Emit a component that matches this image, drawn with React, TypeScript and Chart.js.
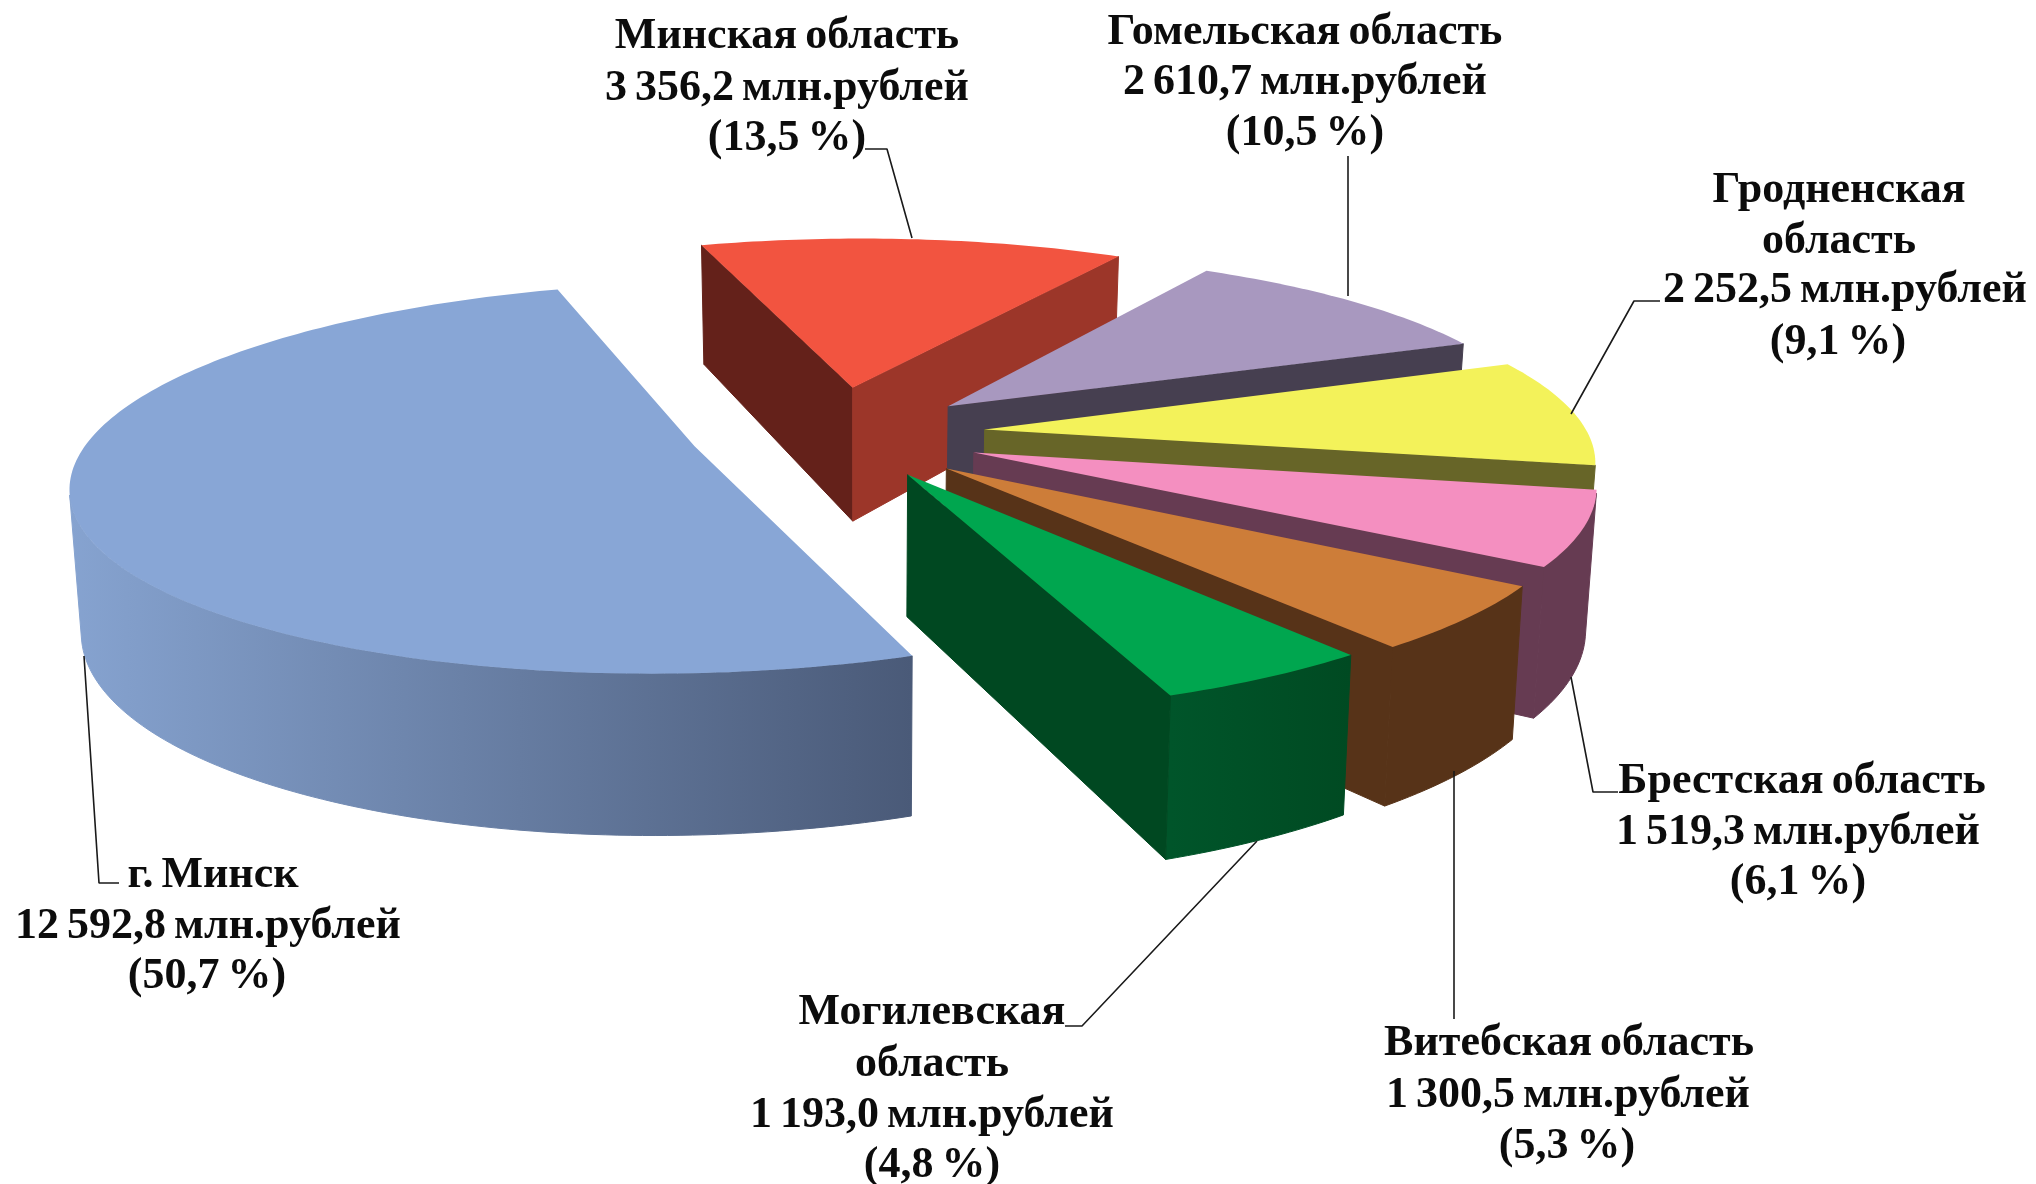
import React, { useEffect, useRef } from "react";
import { Chart, registerables } from "chart.js";

Chart.register(...registerables);

const categories = ["Минская область", "Гомельская область", "Гродненская область", "Брестская область", "Витебская область", "Могилевская область", "г. Минск"];
const seriesValues = [3356.2, 2610.7, 2252.5, 1519.3, 1300.5, 1193.0, 12592.8];
const valueLabels = ["3 356,2 млн.рублей", "2 610,7 млн.рублей", "2 252,5 млн.рублей", "1 519,3 млн.рублей", "1 300,5 млн.рублей", "1 193,0 млн.рублей", "12 592,8 млн.рублей"];
const percentLabels = ["(13,5 %)", "(10,5 %)", "(9,1 %)", "(6,1 %)", "(5,3 %)", "(4,8 %)", "(50,7 %)"];

// Presentation only
const topColors = ["#f25440", "#a898bf", "#f3f25a", "#f48fc0", "#cd7d39", "#00a64f", "#88a6d6"];
const startWall = ["#64211a", "#463f50", "#676528", "#663b52", "#573318", "#004a22", "#4a5a78"];
const endWall = ["#9c3629", "#463f50", "#676528", "#663b52", "#573318", "#004821", "#4a5a78"];
const outerFrom = ["#9c3629", "#463f50", "#676528", "#663b52", "#573318", "#00552a", "#86a3d0"];
const outerTo = ["#9c3629", "#463f50", "#676528", "#663b52", "#573318", "#004a22", "#4a5a78"];
const explodePercent = [26.3, 21.9, 21.4, 21.3, 22.8, 22.2, 27.2];
const explodeTwistDeg = [-8.5, -5.2, -2.5, 3.8, 7.7, 7.3, 7];

const labelBlocks = [
  { lines: [categories[0], valueLabels[0], percentLabels[0]], x: [787, 787, 787], y: [37, 89, 139], leader: [[865, 149], [887, 149], [912, 238]] },
  { lines: [categories[1], valueLabels[1], percentLabels[1]], x: [1305, 1305, 1305], y: [33, 83, 134], leader: [[1348, 156], [1348, 296]] },
  { lines: ["Гродненская", "область", valueLabels[2], percentLabels[2]], x: [1839, 1839, 1845, 1838], y: [191, 242, 291, 343], leader: [[1660, 301], [1634, 301], [1571, 414]] },
  { lines: [categories[3], valueLabels[3], percentLabels[3]], x: [1802, 1798, 1798], y: [782, 833, 883], leader: [[1618, 792], [1593, 792], [1571, 677]] },
  { lines: [categories[4], valueLabels[4], percentLabels[4]], x: [1569, 1568, 1567], y: [1044, 1096, 1147], leader: [[1454, 1019], [1454, 771]] },
  { lines: ["Могилевская", "область", valueLabels[5], percentLabels[5]], x: [932, 932, 932, 932], y: [1013, 1065, 1116, 1166], leader: [[1065, 1026], [1082, 1026], [1257, 841]] },
  { lines: [categories[6], valueLabels[6], percentLabels[6]], x: [213, 208, 207], y: [876, 927, 977], leader: [[119, 883], [99, 883], [84, 656]] },
];

const VIEW = { yRatio: 187 / 604, skew: -10 / 604, perspective: 0.16, depth: 138, depthSlope: 0.1, bottomX: 0.985 };

type P = [number, number];

function makeProjector(cx: number, cy: number, r: number) {
  return (x: number, y: number, bottom: boolean): P => {
    const w = 1 - VIEW.perspective * y;
    const sx = ((x + VIEW.skew * y) * r) / w;
    const sy = (y * r * VIEW.yRatio) / w;
    if (!bottom) return [cx + sx, cy + sy];
    return [cx + VIEW.bottomX * sx, cy + sy + VIEW.depth + VIEW.depthSlope * sy];
  };
}

function area(poly: P[]) {
  let s = 0;
  for (let i = 0; i < poly.length; i++) {
    const [a, b] = poly[i];
    const [c, d] = poly[(i + 1) % poly.length];
    s += a * d - c * b;
  }
  return s / 2;
}

function fillPoly(ctx: CanvasRenderingContext2D, poly: P[], fill: string | CanvasGradient, seal = false) {
  ctx.beginPath();
  poly.forEach(([x, y], i) => (i ? ctx.lineTo(x, y) : ctx.moveTo(x, y)));
  ctx.closePath();
  ctx.fillStyle = fill;
  ctx.fill();
  if (seal) {
    ctx.strokeStyle = fill;
    ctx.lineWidth = 1;
    ctx.lineJoin = "bevel";
    ctx.stroke();
  }
}

const perspectivePie = {
  id: "perspectivePie",
  beforeDatasetDraw(chart: any) {
    const ctx: CanvasRenderingContext2D = chart.ctx;
    const arcs = chart.getDatasetMeta(0).data.map((el: any, i: number) => {
      const g = el.getProps(["x", "y", "startAngle", "endAngle", "outerRadius"], true);
      return { i, g, d: (el.options.offset || 0) / 100, color: el.options.backgroundColor, mid: (g.startAngle + g.endAngle) / 2 };
    });
    arcs.sort((a: any, b: any) => Math.sin(a.mid) - Math.sin(b.mid));
    for (const { i, g, d, color, mid } of arcs) {
      const proj = makeProjector(g.x, g.y, g.outerRadius);
      const dir = mid + (explodeTwistDeg[i] * Math.PI) / 180;
      const ox = d * Math.cos(dir);
      const oy = d * Math.sin(dir);
      const steps = Math.max(4, Math.ceil(((g.endAngle - g.startAngle) * 180) / Math.PI));
      const rim: { t: P; b: P }[] = [];
      for (let k = 0; k <= steps; k++) {
        const a = g.startAngle + ((g.endAngle - g.startAngle) * k) / steps;
        const x = ox + Math.cos(a);
        const y = oy + Math.sin(a);
        rim.push({ t: proj(x, y, false), b: proj(x, y, true) });
      }
      const apexT = proj(ox, oy, false);
      const apexB = proj(ox, oy, true);
      let run: { t: P; b: P }[] = [];
      const flush = () => {
        if (run.length > 1) {
          const xs = run.map((r) => r.t[0]);
          const grad = ctx.createLinearGradient(Math.min(...xs), 0, Math.max(...xs), 0);
          grad.addColorStop(0, outerFrom[i]);
          grad.addColorStop(1, outerTo[i]);
          fillPoly(ctx, [...run.map((r) => r.t), ...run.map((r) => r.b).reverse()], grad, true);
        }
        run = [];
      };
      for (let k = 0; k < steps; k++) {
        const q: P[] = [rim[k].t, rim[k + 1].t, rim[k + 1].b, rim[k].b];
        if (area(q) < 0) {
          if (!run.length) run.push(rim[k]);
          run.push(rim[k + 1]);
        } else flush();
      }
      flush();
      const s = rim[0];
      const e = rim[steps];
      const qs: P[] = [apexT, s.t, s.b, apexB];
      if (area(qs) < 0) fillPoly(ctx, qs, startWall[i], true);
      const qe: P[] = [e.t, apexT, apexB, e.b];
      if (area(qe) < 0) fillPoly(ctx, qe, endWall[i], true);
      fillPoly(ctx, [apexT, ...rim.map((r) => r.t)], color);
    }
    return false;
  },
  afterDraw(chart: any) {
    const ctx: any = chart.ctx;
    ctx.save();
    ctx.font = 'bold 44px "Liberation Serif"';
    ctx.wordSpacing = "-3px";
    ctx.textAlign = "center";
    ctx.textBaseline = "middle";
    for (const b of labelBlocks) {
      ctx.strokeStyle = "#1a1a1a";
      ctx.lineWidth = 1.6;
      ctx.beginPath();
      b.leader.forEach(([x, y], i) => (i ? ctx.lineTo(x, y) : ctx.moveTo(x, y)));
      ctx.stroke();
      ctx.fillStyle = "#0c0c0c";
      b.lines.forEach((line, i) => ctx.fillText(line, b.x[i], b.y[i]));
    }
    ctx.restore();
  },
};

export default function App() {
  const ref = useRef<HTMLCanvasElement>(null);
  useEffect(() => {
    const chart = new Chart(ref.current!, {
      type: "pie",
      data: {
        labels: categories,
        datasets: [{ data: seriesValues, backgroundColor: topColors, offset: explodePercent, borderWidth: 0 }],
      },
      options: {
        animation: false,
        responsive: false,
        rotation: -18.4,
        radius: 604,
        layout: { padding: { left: 0, right: 322, top: 0, bottom: 314 } },
        plugins: { legend: { display: false }, tooltip: { enabled: false } },
      },
      plugins: [perspectivePie],
    } as any);
    return () => chart.destroy();
  }, []);
  return (
    <div style={{ position: "absolute", left: 0, top: 0, width: 2036, height: 1184, background: "#fff" }}>
      <canvas ref={ref} width={2036} height={1184} style={{ display: "block" }} />
    </div>
  );
}
